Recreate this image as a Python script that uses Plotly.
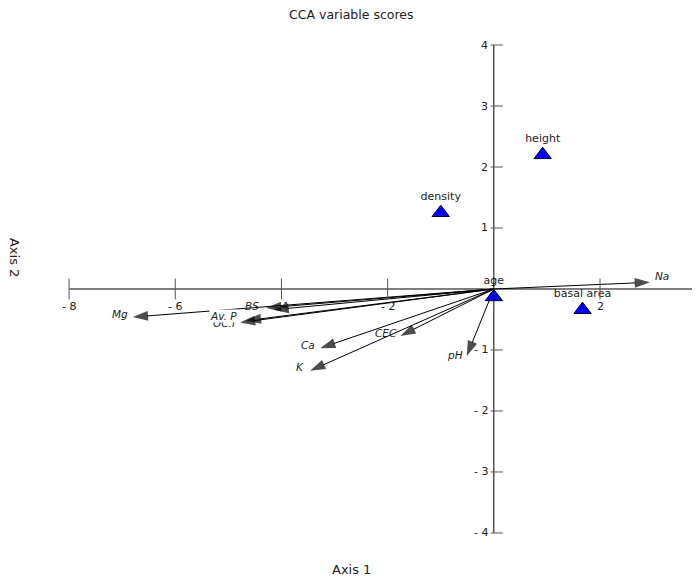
import plotly.graph_objects as go

# ---- data ----
species = ["height", "density", "age", "basal area"]
species_x = [0.92, -1.00, 0.00, 1.67]
species_y = [2.20, 1.25, -0.13, -0.34]

env_names = ["Na", "Mg", "BS", "", "OC.I", "Av. P", "Ca", "K", "CEC", "pH"]
env_x = [2.94, -6.80, -4.29, -4.15, -4.78, -4.67, -3.27, -3.46, -1.76, -0.51]
env_y = [0.11, -0.46, -0.31, -0.34, -0.55, -0.52, -0.97, -1.34, -0.77, -1.10]

x_ticks = [-8, -6, -4, -2, 2]
x_tick_labels = ["- 8", "- 6", "- 4", "- 2", "2"]
y_ticks = [4, 3, 2, 1, -1, -2, -3, -4]
y_tick_labels = ["4", "3", "2", "1", "- 1", "- 2", "- 3", "- 4"]

X_RANGE = [-8.51, 3.77]
Y_RANGE = [-4.23, 4.246]

FONT = "DejaVu Sans"

# label pixel offsets (style)
lab_style = {
    "Na": dict(xanchor="left", xshift=4, yshift=6),
    "Mg": dict(xanchor="right", xshift=-4, yshift=3),
    "BS": dict(xanchor="right", xshift=-6, yshift=2),
    "Av. P": dict(xanchor="right", xshift=-8, yshift=5, bgcolor="white"),
    "OC.I": dict(xanchor="right", xshift=-4, yshift=0),
    "Ca": dict(xanchor="right", xshift=-4, yshift=3),
    "K": dict(xanchor="right", xshift=-5, yshift=4),
    "CEC": dict(xanchor="right", xshift=-2, yshift=3),
    "pH": dict(xanchor="right", xshift=-3, yshift=1),
}

fig = go.Figure()
shapes = []
annotations = []

# axes lines through origin
shapes.append(dict(type="line", xref="x", yref="y", x0=x_ticks[0], x1=X_RANGE[1], y0=0, y1=0,
                   line=dict(color="black", width=1)))
shapes.append(dict(type="line", xref="x", yref="y", x0=0, x1=0, y0=y_ticks[-1], y1=y_ticks[0],
                   line=dict(color="black", width=1)))
for t, lab in zip(x_ticks, x_tick_labels):
    shapes.append(dict(type="line", xref="x", yref="y", x0=t, x1=t, y0=-0.17, y1=0.17,
                       line=dict(color="#555555", width=1)))
    annotations.append(dict(x=t, y=0, xref="x", yref="y", text=lab, showarrow=False,
                            yshift=-18, font=dict(family=FONT, size=11, color="#222222")))
for t, lab in zip(y_ticks, y_tick_labels):
    shapes.append(dict(type="line", xref="x", yref="y", x0=-0.06, x1=0.17, y0=t, y1=t,
                       line=dict(color="#555555", width=1)))
    annotations.append(dict(x=-0.06, y=t, xref="x", yref="y", text=lab, showarrow=False,
                            xanchor="right", xshift=-1, font=dict(family=FONT, size=11, color="#222222")))

# environmental arrows
for name, ex, ey in zip(env_names, env_x, env_y):
    fig.add_trace(go.Scatter(
        x=[0, ex], y=[0, ey], mode="lines+markers",
        line=dict(color="black", width=1),
        marker=dict(symbol=["circle", "arrow"], size=[0, 16], angleref="previous",
                    color="black", line=dict(width=0)),
        hoverinfo="skip", showlegend=False))

for name, ex, ey in zip(env_names, env_x, env_y):
    if not name:
        continue
    st = lab_style.get(name, {})
    annotations.append(dict(x=ex, y=ey, xref="x", yref="y", text="<i>" + name + "</i>",
                            showarrow=False, borderpad=0,
                            font=dict(family=FONT, size=10.5, color="#222222"), **st))

# species triangles
fig.add_trace(go.Scatter(
    x=species_x, y=species_y, mode="markers+text", text=species,
    textposition="top center", textfont=dict(family=FONT, size=11, color="#222222"),
    marker=dict(symbol="triangle-up", size=15, color="#0000ff", line=dict(color="#000033", width=1)),
    showlegend=False, hoverinfo="skip"))

annotations.append(dict(text="CCA variable scores", x=0.474, y=1, xref="paper",
                        yref="paper", showarrow=False, yanchor="bottom", yshift=6,
                        font=dict(family=FONT, size=12.5, color="#222222")))
annotations.append(dict(text="Axis 1", x=0.474, y=0, xref="paper", yref="paper", showarrow=False,
                        yanchor="top", yshift=-13, font=dict(family=FONT, size=13, color="#222222")))
annotations.append(dict(text="Axis 2", x=0, y=0.56, xref="paper", yref="paper", showarrow=False,
                        textangle=90, xanchor="right", xshift=-18,
                        font=dict(family=FONT, size=13, color="#222222")))

# page body has an 8px margin; compensate so the chart lands where the reference has it
fig.update_layout(
    width=692, height=569,
    margin=dict(l=34, r=6, t=22, b=30),
    plot_bgcolor="white", paper_bgcolor="white",
    xaxis=dict(range=X_RANGE, visible=False, fixedrange=True),
    yaxis=dict(range=Y_RANGE, visible=False, fixedrange=True),
    shapes=shapes, annotations=annotations,
)

fig.write_html("out.html")
